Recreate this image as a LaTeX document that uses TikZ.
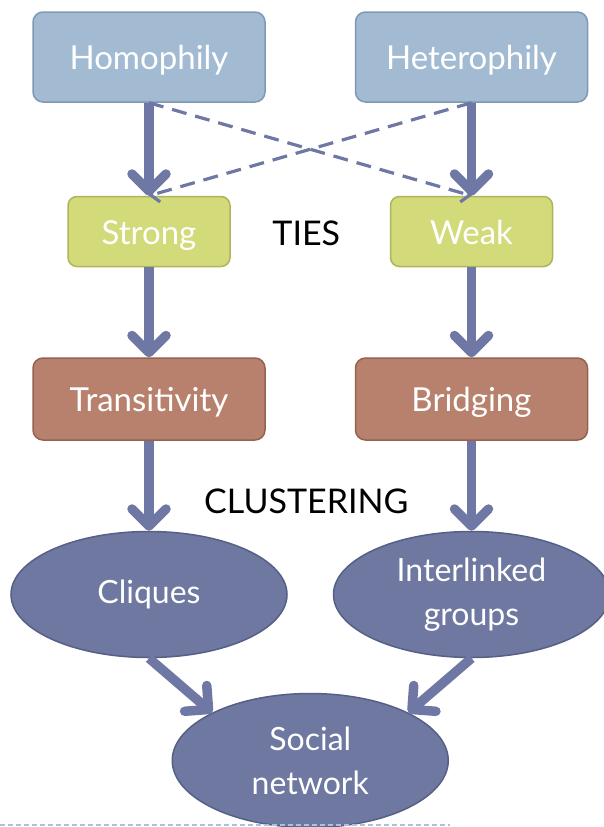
\documentclass[tikz,border=0pt]{standalone}
\usepackage{fontspec}
\setmainfont{Lato}
\usepackage{xcolor}
\definecolor{sourceLight}{HTML}{A2BBD2}
\definecolor{sourceDark}{HTML}{7F99B2}
\definecolor{tieLight}{HTML}{D3DA7A}
\definecolor{tieDark}{HTML}{AEB55C}
\definecolor{effectLight}{HTML}{B8816E}
\definecolor{effectDark}{HTML}{95624F}
\definecolor{groupLight}{HTML}{6E78A0}
\definecolor{groupDark}{HTML}{565F86}
\definecolor{arrowBlue}{HTML}{6F78A4}
\definecolor{footerBlue}{HTML}{A9C3DE}
\usetikzlibrary{%
    shapes,
    arrows.meta,
    positioning,
    calc
}

\begin{document}
\begin{tikzpicture}[x=1pt, y=-1pt, node distance=90pt,
                source/.style={rectangle, rounded corners=10pt, minimum width=232pt, minimum height=90pt, text centered, text height=25pt, text depth=0pt, fill=sourceLight, draw=sourceDark, line width=1.5pt, text=white, font=\fontsize{33}{38}\selectfont},
                tie/.style={rectangle, rounded corners=9pt, minimum width=162pt, minimum height=70pt, text centered, text height=25pt, text depth=0pt, fill=tieLight, draw=tieDark, line width=1.5pt, text=white, font=\fontsize{33}{38}\selectfont},
                effect/.style={rectangle, rounded corners=10pt, minimum width=232pt, minimum height=82pt, text centered, text height=25pt, text depth=0pt, fill=effectLight, draw=effectDark, line width=1.5pt, text=white, font=\fontsize{33}{38}\selectfont},
                group/.style={ellipse, minimum width=276pt, minimum height=126pt, align=center, fill=groupLight, draw=groupDark, line width=1.5pt, text=white, font=\fontsize{32}{44}\selectfont},
                heading/.style={text=black, font=\fontsize{34}{38}\selectfont},
                flow/.style={draw, arrowBlue, line width=9.5pt, -{Straight Barb[length=17pt, width=34pt, round]}},
                cross_flow/.style={draw, arrowBlue, line width=3.2pt, dash pattern=on 15pt off 9pt, -{Straight Barb[length=7pt, width=18pt]}},
                footer/.style={draw, footerBlue, line width=1.5pt, dash pattern=on 5pt off 3pt}
            ]

            \useasboundingbox (0,0) rectangle (604,827);

            \node (homo) at (149,57) [source] {Homophily};
            \node (hetero) [source, right=89pt of homo] {Heterophily};

            \node (strong) [tie, below=93pt of homo] {Strong};
            \node (weak) [tie, below=93pt of hetero] {Weak};
            \node (ties) [heading] at ($(strong)!0.5!(weak)+(-4,2)$) {TIES};

            \node (trans) [effect, below=of strong] {Transitivity};
            \node (bridge) [effect, below=of weak] {Bridging};

            \node (cliques) [group, below=of trans] {Cliques};
            \node (linked) [group, below=of bridge] {Interlinked\\groups};
            \node (clust) [heading] at ($(trans)!0.5!(bridge)+(-4,102)$) {CLUSTERING};

            \node (social) [group, minimum height=134pt] at ($(cliques)!0.5!(linked)+(0,166)$) {Social\\network};

            \draw [flow] (homo) -- (strong);
            \draw [flow] (hetero) -- (weak);
            \draw [cross_flow] (homo.south) -- (weak.north);
            \draw [cross_flow] (hetero.south) -- (strong.north);
            \draw [flow] (strong) -- (trans);
            \draw [flow] (weak) -- (bridge);
            \draw [flow] (trans) -- (cliques);
            \draw [flow] (bridge) -- (linked);
            \draw [flow] (cliques.south) -- (social.north west);
            \draw [flow] (linked.south) -- (social.north east);

            \draw [footer] (0,825) -- (450,825);
        \end{tikzpicture}
\end{document}
